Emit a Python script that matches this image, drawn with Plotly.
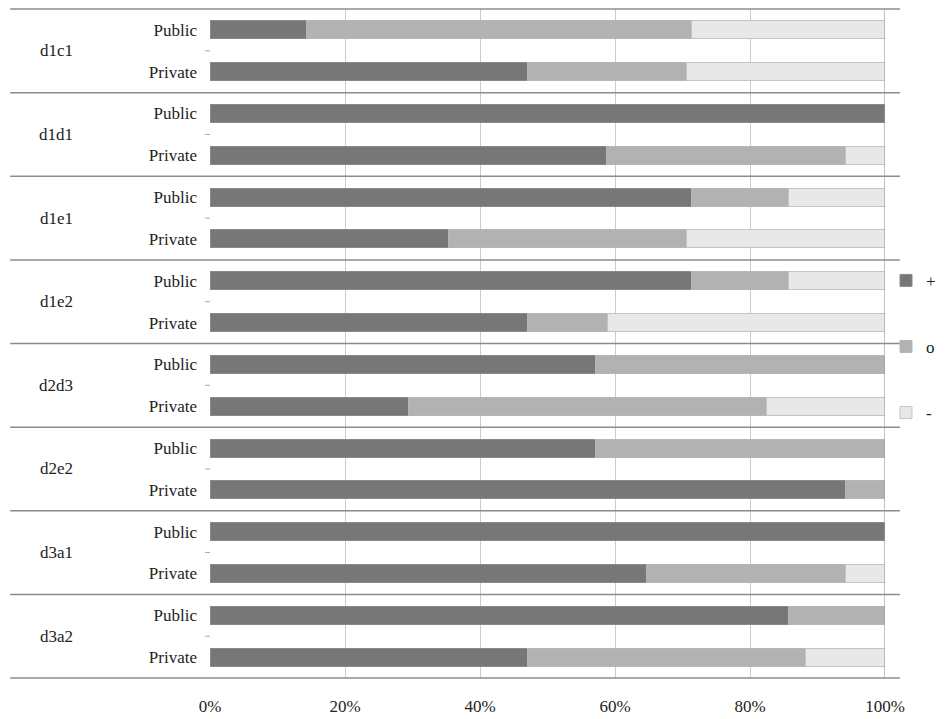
import plotly.graph_objects as go

groups = ["d1c1", "d1d1", "d1e1", "d1e2", "d2d3", "d2e2", "d3a1", "d3a2"]
subs = ["Public", "Private"]

# percent per row, top to bottom (group x sub)
plus_pct = [14.3, 47.1, 100, 58.8, 71.4, 35.3, 71.4, 47.1, 57.1, 29.4, 57.1, 94.1, 100, 64.7, 85.7, 47.1]
o_pct = [57.1, 23.5, 0, 35.3, 14.3, 35.3, 14.3, 11.8, 42.9, 52.9, 42.9, 5.9, 0, 29.4, 14.3, 41.2]
minus_pct = [28.6, 29.4, 0, 5.9, 14.3, 29.4, 14.3, 41.2, 0, 17.6, 0, 0, 0, 5.9, 0, 11.8]

series_names = ["+", "o", "-"]
series_vals = [plus_pct, o_pct, minus_pct]
colors = ["#777777", "#b2b2b2", "#e8e8e8"]
line_colors = ["#8a8a8a", "#b6b6b6", "#c4c4c4"]
x_ticks = [0, 20, 40, 60, 80, 100]
x_tick_labels = ["0%", "20%", "40%", "60%", "80%", "100%"]

row_labels = [s for g in groups for s in subs]
row_pos = list(range(len(row_labels)))
n_rows = len(row_labels)

FONT = "Liberation Serif"

fig = go.Figure()
for name, vals, c, lc in zip(series_names, series_vals, colors, line_colors):
    fig.add_trace(go.Bar(
        y=row_pos, x=vals, orientation="h", name=name,
        marker=dict(color=c, line=dict(color=lc, width=1)),
        width=0.43, legendgroup=name,
    ))

shapes = []
# group separators
for k in range(len(groups) + 1):
    yp = 1 - k * len(subs) / n_rows
    shapes.append(dict(type="line", xref="paper", yref="paper",
                       x0=-0.296, x1=1.022, y0=yp, y1=yp,
                       line=dict(color="#8c8c8c", width=1.5)))
# small ticks between Public/Private
for i in range(len(groups)):
    yp = 1 - (i * len(subs) + 1) / n_rows
    shapes.append(dict(type="line", xref="paper", yref="paper",
                       x0=-0.0075, x1=0, y0=yp, y1=yp,
                       line=dict(color="#aaaaaa", width=1)))
# right border line at 100%
shapes.append(dict(type="line", xref="x", yref="paper", x0=100, x1=100, y0=0, y1=1,
                   line=dict(color="#999999", width=1.2)))

annotations = []
for i, g in enumerate(groups):
    annotations.append(dict(
        text=g, xref="paper", yref="y", x=-0.228, y=i * len(subs) + 0.5,
        showarrow=False, xanchor="center", yanchor="middle",
        font=dict(family=FONT, size=17, color="#222222")))

fig.update_layout(
    width=948, height=719,
    margin=dict(l=202, r=71, t=1, b=49, autoexpand=False),
    barmode="stack", barnorm="percent",
    plot_bgcolor="white", paper_bgcolor="white",
    font=dict(family=FONT, size=17, color="#222222"),
    shapes=shapes, annotations=annotations,
    legend=dict(x=1.0015, y=0.495, xanchor="left", yanchor="middle",
                traceorder="grouped", tracegroupgap=41,
                font=dict(family=FONT, size=17, color="#222222"),
                itemwidth=30, bgcolor="rgba(0,0,0,0)"),
    xaxis=dict(range=[0, 100], tickvals=x_ticks, ticktext=x_tick_labels,
               showgrid=True, gridcolor="#cccccc", gridwidth=1,
               zeroline=False, showline=False, ticks="",
               ticklabelstandoff=16, fixedrange=True, automargin=False),
    yaxis=dict(range=[n_rows - 0.5, -0.5], tickvals=row_pos, ticktext=row_labels,
               showgrid=False, zeroline=False, showline=False, ticks="",
               ticklabelstandoff=12, fixedrange=True, automargin=False),
    bargap=0.5,
)

fig.write_html("out.html")
